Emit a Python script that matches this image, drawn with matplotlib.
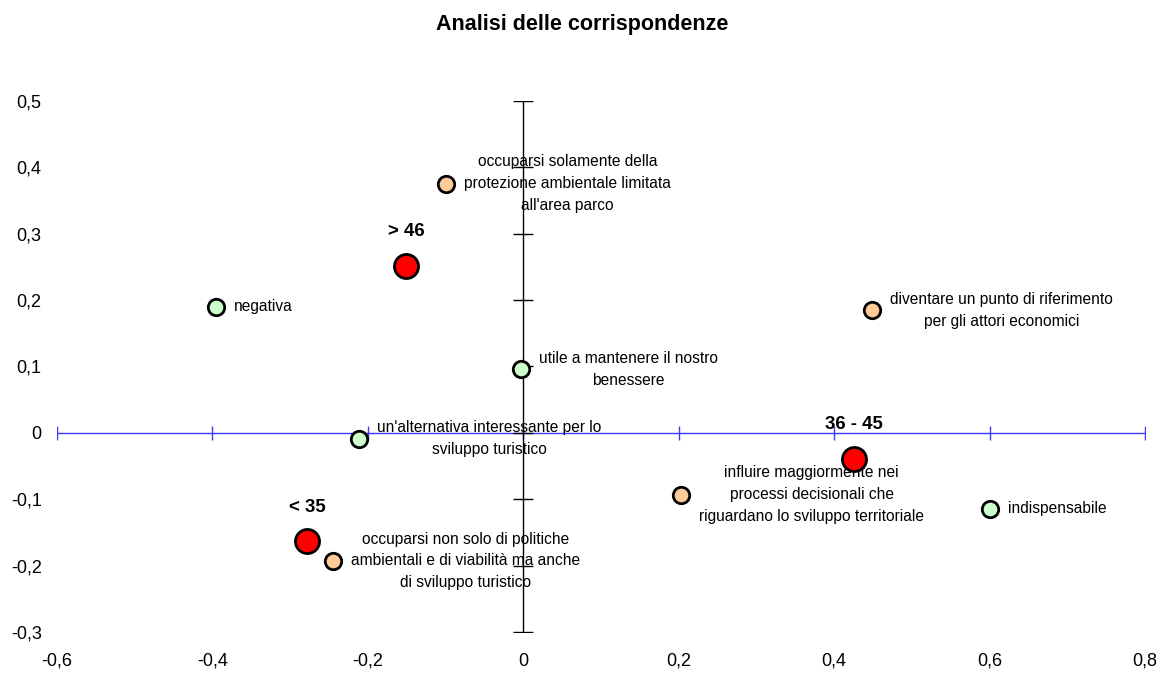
import numpy as np
import matplotlib
matplotlib.use('Agg')
import matplotlib.pyplot as plt

plt.rcParams['font.family'] = ['Liberation Sans', 'DejaVu Sans']

# age classes (red)
age_labels = ['> 46', '< 35', '36 - 45']
age_x = [-0.151, -0.278, 0.425]
age_y = [0.252, -0.163, -0.039]

# opinions (green)
opin_labels = ['negativa', 'utile a mantenere il nostro\nbenessere',
               "un'alternativa interessante per lo\nsviluppo turistico",
               'indispensabile']
opin_x = [-0.395, -0.003, -0.211, 0.600]
opin_y = [0.190, 0.096, -0.009, -0.114]

# roles (orange)
role_labels = ['occuparsi solamente della\nprotezione ambientale limitata\nall\'area parco',
               'diventare un punto di riferimento\nper gli attori economici',
               'influire maggiormente nei\nprocessi decisionali che\nriguardano lo sviluppo territoriale',
               'occuparsi non solo di politiche\nambientali e di viabilità ma anche\ndi sviluppo turistico']
role_x = [-0.099, 0.449, 0.203, -0.245]
role_y = [0.375, 0.185, -0.093, -0.193]

xticks = [-0.6, -0.4, -0.2, 0, 0.2, 0.4, 0.6, 0.8]
yticks = [-0.3, -0.2, -0.1, 0, 0.1, 0.2, 0.3, 0.4, 0.5]


def fmt(v):
    if abs(v) < 1e-9:
        return '0'
    return ('%g' % v).replace('.', ',')


fig = plt.figure(figsize=(11.65, 6.73), dpi=100)
ax = fig.add_axes([0.0489, 0.0609, 0.9339, 0.7891])
ax.set_xlim(-0.6, 0.8)
ax.set_ylim(-0.3, 0.5)
for s in ax.spines.values():
    s.set_visible(False)

ax.set_xticks(xticks)
ax.set_xticklabels([fmt(v) for v in xticks])
ax.set_yticks(yticks)
ax.set_yticklabels([fmt(v) for v in yticks])
ax.tick_params(axis='both', length=0, labelsize=13)
ax.tick_params(axis='x', pad=15)
ax.tick_params(axis='y', pad=11)

# axes through the origin
ax.plot([xticks[0], xticks[-1]], [0, 0], color='#3a3aff', lw=1, zorder=1)
ax.plot(xticks, np.zeros(len(xticks)), ls='none', marker='|', ms=10,
        mew=1, color='#3a3aff', zorder=1)
ax.plot([0, 0], [yticks[0], yticks[-1]], color='black', lw=1, zorder=1)
ax.plot(np.zeros(len(yticks)), yticks, ls='none', marker='_', ms=14,
        mew=1, color='black', zorder=1)

ax.scatter(opin_x, opin_y, s=140, c='#ccffcc', edgecolors='black',
           linewidths=2, zorder=3)
ax.scatter(role_x, role_y, s=140, c='#ffcc99', edgecolors='black',
           linewidths=2, zorder=3)
ax.scatter(age_x, age_y, s=300, c='#ff0000', edgecolors='black',
           linewidths=2, zorder=3)

for lab, x, y in zip(opin_labels + role_labels, opin_x + role_x, opin_y + role_y):
    ax.annotate(lab, (x, y), xytext=(18, 0), textcoords='offset pixels',
                ha='left', va='center', multialignment='center',
                fontsize=11.2, linespacing=1.58, zorder=2)

for lab, x, y in zip(age_labels, age_x, age_y):
    ax.annotate(lab, (x, y), xytext=(0, 34), textcoords='offset pixels',
                ha='center', va='center', fontsize=13.4, fontweight='bold')

fig.text(0.5, 0.963, 'Analisi delle corrispondenze', ha='center', va='center',
         fontsize=15.5, fontweight='bold')

fig.savefig('out.png', dpi=100)
